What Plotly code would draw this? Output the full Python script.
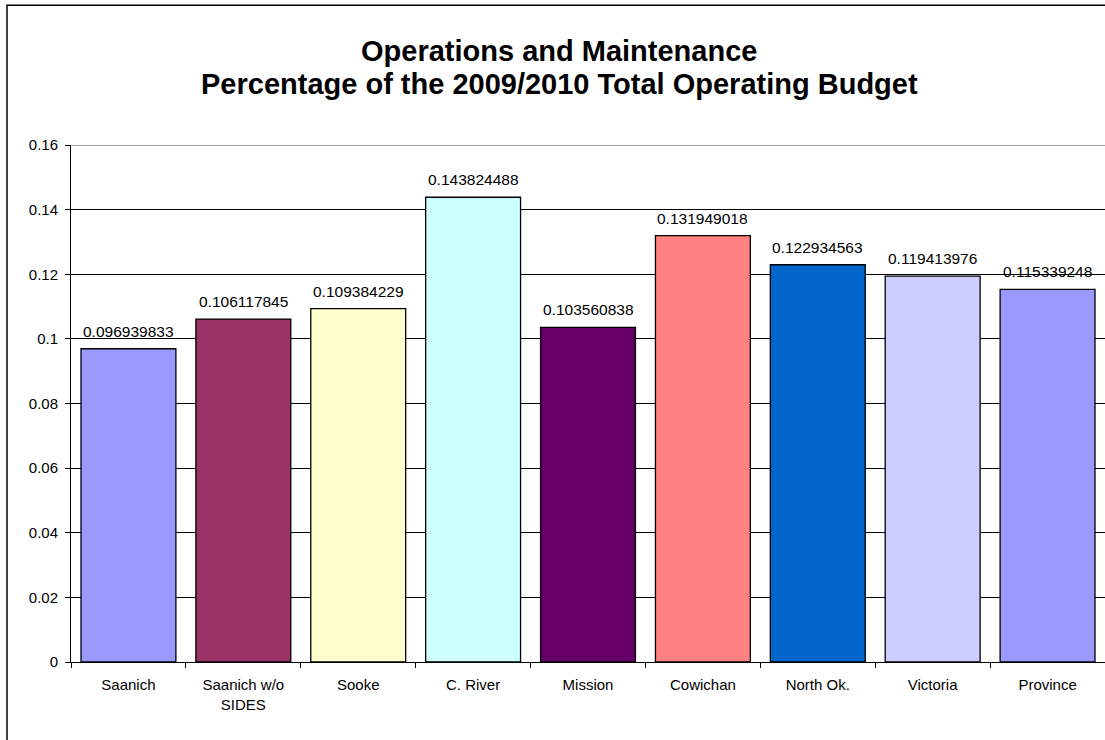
import plotly.graph_objects as go

# Operations & maintenance share of the 2009/2010 total operating budget
districts = ["Saanich", "Saanich w/o<br>SIDES", "Sooke", "C. River", "Mission",
             "Cowichan", "North Ok.", "Victoria", "Province"]
shares = [0.096939833, 0.106117845, 0.109384229, 0.143824488, 0.103560838,
          0.131949018, 0.122934563, 0.119413976, 0.115339248]
bar_colors = ["#9999FF", "#993366", "#FFFFCC", "#CCFFFF", "#660066",
              "#FF8080", "#0066CC", "#CCCCFF", "#9999FF"]
y_ticks = [0, 0.02, 0.04, 0.06, 0.08, 0.1, 0.12, 0.14, 0.16]
y_tick_text = ["0", "0.02", "0.04", "0.06", "0.08", "0.1", "0.12", "0.14", "0.16"]
title_lines = ["Operations and Maintenance",
               "Percentage of the 2009/2010 Total Operating Budget"]

FONT = "Arial, Liberation Sans, sans-serif"

fig = go.Figure()
fig.add_trace(go.Bar(
    x=districts,
    y=shares,
    marker=dict(color=bar_colors, line=dict(color="#000000", width=1.3)),
    hoverinfo="x+y",
))

# value labels above each bar
for d, v in zip(districts, shares):
    fig.add_annotation(
        x=d, y=v, text=f"{v:.9f}", showarrow=False,
        yanchor="bottom", yshift=7,
        font=dict(family=FONT, size=15.5, color="#000000"),
    )

# two-line bold chart title
for yy, line in zip([1.1818, 1.118], title_lines):
    fig.add_annotation(
        xref="paper", yref="paper", x=0.472, y=yy,
        xanchor="center", yanchor="middle", showarrow=False,
        text=f"<b>{line}</b>",
        font=dict(family=FONT, size=29, color="#000000"),
    )

# top edge of plot area
fig.add_shape(
    type="line", xref="paper", yref="y", x0=0, x1=1, y0=0.16, y1=0.16,
    line=dict(color="#808080", width=1.5), layer="above",
)

# outer chart border
fig.add_shape(
    type="rect", xref="paper", yref="paper",
    x0=-0.0619, x1=1.05, y0=-0.3, y1=1.2705,
    line=dict(color="#000000", width=1.5), fillcolor="rgba(0,0,0,0)",
    layer="above",
)

fig.update_layout(
    width=1105, height=740,
    margin=dict(l=71, r=0, t=145, b=78),
    paper_bgcolor="#FFFFFF", plot_bgcolor="#FFFFFF",
    bargap=0.174,
    showlegend=False,
    font=dict(family=FONT, size=15, color="#000000"),
    xaxis=dict(
        type="category",
        showline=True, linecolor="#000000", linewidth=1,
        ticks="outside", ticklen=5, tickcolor="#000000", tickson="boundaries",
        ticklabelstandoff=9,
        showgrid=False,
        tickfont=dict(family=FONT, size=15, color="#000000"),
    ),
    yaxis=dict(
        range=[0, 0.16],
        tickvals=y_ticks, ticktext=y_tick_text,
        showline=True, linecolor="#000000", linewidth=1,
        ticks="outside", ticklen=5, tickcolor="#000000",
        ticklabelstandoff=4,
        showgrid=True, gridcolor="#000000", gridwidth=1,
        zeroline=False,
        tickfont=dict(family=FONT, size=15, color="#000000"),
    ),
)

fig.write_html("out.html")
